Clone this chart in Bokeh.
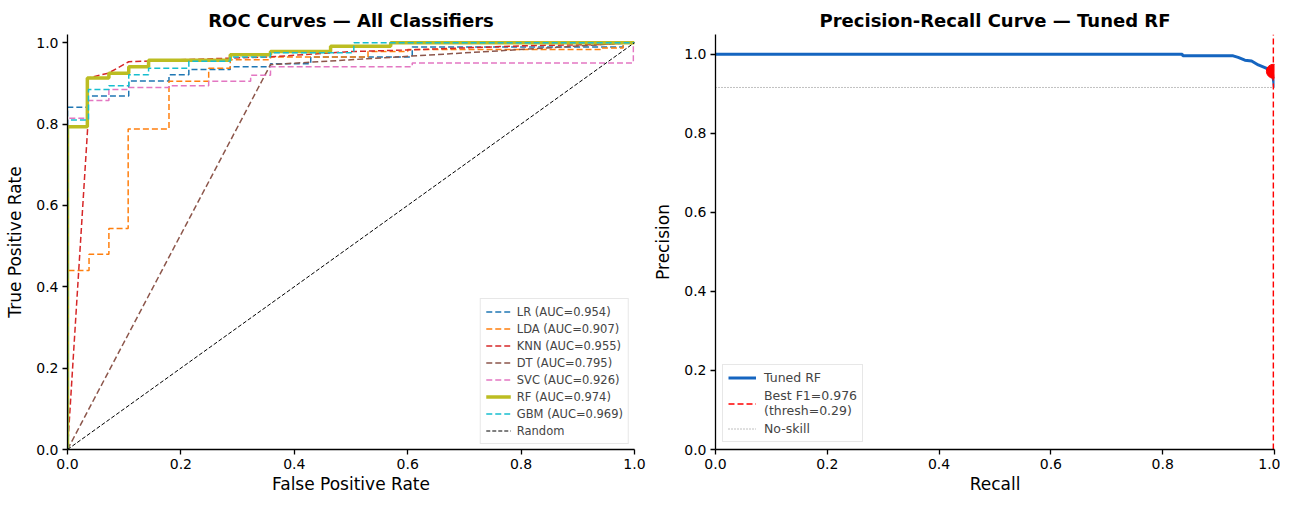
from bokeh.plotting import figure
from bokeh.layouts import row
from bokeh.models import Range1d, FixedTicker, PrintfTickFormatter, Legend, LegendItem
from bokeh.embed import file_html
from bokeh.resources import INLINE

FONT = "DejaVu Sans"

# ---------------- ROC data ----------------
lr_fpr = [0, 0, 0.035, 0.035, 0.108, 0.108, 0.179, 0.179, 0.214, 0.214, 0.287, 0.287, 0.358, 0.358, 0.429, 0.429, 0.608, 0.608, 0.98, 0.98, 1.0]
lr_tpr = [0, 0.841, 0.841, 0.869, 0.869, 0.906, 0.906, 0.921, 0.921, 0.934, 0.934, 0.941, 0.941, 0.948, 0.948, 0.965, 0.965, 0.989, 0.989, 1.0, 1.0]

lda_fpr = [0, 0, 0.038, 0.038, 0.073, 0.073, 0.107, 0.107, 0.179, 0.179, 0.249, 0.249, 0.287, 0.287, 0.358, 0.358, 0.53, 0.53, 0.6, 0.6, 0.94, 0.94, 0.98, 0.98, 1.0]
lda_tpr = [0, 0.44, 0.44, 0.48, 0.48, 0.543, 0.543, 0.788, 0.788, 0.905, 0.905, 0.937, 0.937, 0.958, 0.958, 0.965, 0.965, 0.978, 0.978, 0.983, 0.983, 0.987, 0.987, 1.0, 1.0]

knn_fpr = [0, 0.036, 0.036, 0.072, 0.108, 0.179, 0.357, 0.5, 0.6, 0.82, 0.93, 1.0]
knn_tpr = [0, 0.80, 0.913, 0.925, 0.953, 0.957, 0.965, 0.978, 0.982, 0.993, 0.995, 1.0]

dt_fpr = [0, 0.358, 1.0]
dt_tpr = [0, 0.946, 1.0]

svc_fpr = [0, 0, 0.035, 0.035, 0.073, 0.073, 0.108, 0.108, 0.179, 0.179, 0.249, 0.249, 0.323, 0.323, 0.358, 0.358, 0.608, 0.608, 0.998, 0.998]
svc_tpr = [0, 0.814, 0.814, 0.858, 0.858, 0.885, 0.885, 0.890, 0.890, 0.894, 0.894, 0.905, 0.905, 0.92, 0.92, 0.941, 0.941, 0.950, 0.950, 1.0]

rf_fpr = [0, 0, 0.035, 0.035, 0.073, 0.073, 0.108, 0.108, 0.143, 0.143, 0.287, 0.287, 0.358, 0.358, 0.464, 0.464, 0.57, 0.57, 1.0]
rf_tpr = [0, 0.793, 0.793, 0.913, 0.913, 0.925, 0.925, 0.941, 0.941, 0.957, 0.957, 0.970, 0.970, 0.978, 0.978, 0.991, 0.991, 1.0, 1.0]

gbm_fpr = [0, 0, 0.037, 0.037, 0.073, 0.073, 0.108, 0.108, 0.143, 0.143, 0.214, 0.214, 0.287, 0.287, 0.358, 0.358, 0.505, 0.505, 1.0]
gbm_tpr = [0, 0.81, 0.81, 0.885, 0.885, 0.894, 0.894, 0.921, 0.921, 0.937, 0.937, 0.954, 0.954, 0.965, 0.965, 0.975, 0.975, 1.0, 1.0]

rand_x = [0, 1]
rand_y = [0, 1]

roc_names = ["LR", "LDA", "KNN", "DT", "SVC", "RF", "GBM"]
roc_aucs = [0.954, 0.907, 0.955, 0.795, 0.926, 0.974, 0.969]
roc_colors = ["#1f77b4", "#ff7f0e", "#d62728", "#8c564b", "#e377c2", "#bcbd22", "#17becf"]

# ---------------- PR data ----------------
pr_recall = [0.0, 0.835, 0.836, 0.926, 0.935, 0.947, 0.959, 0.971, 0.985, 0.996, 1.0]
pr_precision = [1.0, 1.0, 0.996, 0.996, 0.992, 0.985, 0.983, 0.973, 0.965, 0.956, 0.916]
best_f1 = 0.976
best_thresh = 0.29
best_recall = 0.998
best_precision = 0.957
no_skill = 0.916

ticks = [0.0, 0.2, 0.4, 0.6, 0.8, 1.0]
ROC_YMAX = 1.02
PR_YMAX = 1.05


def style(p, xlabel, ylabel):
    p.title.text_font = FONT
    p.title.text_font_size = "18px"
    p.title.text_font_style = "bold"
    p.title.text_color = "black"
    p.title.align = "center"
    p.title.offset = 0
    p.title.standoff = 7
    p.outline_line_color = None
    p.xgrid.visible = False
    p.ygrid.visible = False
    p.background_fill_color = "white"
    p.border_fill_color = "white"
    for ax in (p.xaxis[0], p.yaxis[0]):
        ax.ticker = FixedTicker(ticks=ticks)
        ax.formatter = PrintfTickFormatter(format="%.1f")
        ax.major_label_text_font = FONT
        ax.major_label_text_font_size = "14px"
        ax.major_label_text_color = "black"
        ax.axis_label_text_font = FONT
        ax.axis_label_text_font_size = "17px"
        ax.axis_label_text_font_style = "normal"
        ax.axis_label_text_color = "black"
        ax.axis_line_color = "black"
        ax.axis_line_width = 1.3
        ax.major_tick_line_color = "black"
        ax.major_tick_line_width = 1.3
        ax.major_tick_out = 5
        ax.major_tick_in = 0
        ax.minor_tick_out = 0
        ax.minor_tick_in = 0
    p.xaxis[0].major_label_standoff = 4
    p.xaxis[0].axis_label_standoff = 2
    p.yaxis[0].major_label_standoff = 4
    p.yaxis[0].axis_label_standoff = 8
    p.xaxis[0].axis_label = xlabel
    p.yaxis[0].axis_label = ylabel


# ---------------- Left: ROC ----------------
p1 = figure(width=648, height=496, output_backend="svg", toolbar_location=None,
            x_range=Range1d(0, 1), y_range=Range1d(0, ROC_YMAX),
            title="ROC Curves \u2014 All Classifiers",
            min_border_left=67, min_border_right=14, min_border_top=34, min_border_bottom=47)
style(p1, "False Positive Rate", "True Positive Rate")

roc_data = [(lr_fpr, lr_tpr), (lda_fpr, lda_tpr), (knn_fpr, knn_tpr), (dt_fpr, dt_tpr),
            (svc_fpr, svc_tpr), (rf_fpr, rf_tpr), (gbm_fpr, gbm_tpr)]
items = []
for (fx, fy), name, auc, col in zip(roc_data, roc_names, roc_aucs, roc_colors):
    if name == "RF":
        r = p1.line(fx, fy, line_color=col, line_width=3.5)
    else:
        r = p1.line(fx, fy, line_color=col, line_width=1.5, line_dash="6 3")
    items.append(LegendItem(label=f"{name} (AUC={auc:.3f})", renderers=[r]))
r = p1.line(rand_x, rand_y, line_color="black", line_width=1, line_dash="4 2")
items.append(LegendItem(label="Random", renderers=[r]))

leg1 = Legend(items=items, location="bottom_right")
leg1.label_text_font = FONT
leg1.label_text_font_size = "11.5px"
leg1.label_height = 15
leg1.glyph_height = 15
leg1.glyph_width = 25
leg1.spacing = 2
leg1.padding = 5
leg1.margin = 5
leg1.label_standoff = 6
leg1.border_line_color = "#d0d0d0"
leg1.border_line_width = 1
leg1.background_fill_alpha = 0.85
p1.add_layout(leg1)

# ---------------- Right: PR ----------------
p2 = figure(width=632, height=496, output_backend="svg", toolbar_location=None,
            x_range=Range1d(0, 1), y_range=Range1d(0, PR_YMAX),
            title="Precision-Recall Curve \u2014 Tuned RF",
            min_border_left=67, min_border_right=6, min_border_top=34, min_border_bottom=47)
style(p2, "Recall", "Precision")

r_ns = p2.line([0, 1], [no_skill, no_skill], line_color="gray", line_width=1, line_dash="1 2")
r_pr = p2.line(pr_recall, pr_precision, line_color="#1565c0", line_width=3)
r_best = p2.line([best_recall, best_recall], [0, PR_YMAX], line_color="red", line_width=1.5, line_dash="6 3")
p2.scatter([best_recall], [best_precision], size=14, color="red")

leg2 = Legend(items=[
    LegendItem(label="Tuned RF", renderers=[r_pr]),
    LegendItem(label=f"Best F1={best_f1:.3f}\n(thresh={best_thresh:.2f})", renderers=[r_best]),
    LegendItem(label="No-skill", renderers=[r_ns]),
], location="bottom_left")
leg2.label_text_font = FONT
leg2.label_text_font_size = "12.5px"
leg2.glyph_width = 28
leg2.glyph_height = 15
leg2.label_height = 15
leg2.spacing = 3
leg2.padding = 5
leg2.margin = 7
leg2.label_standoff = 8
leg2.border_line_color = "#d0d0d0"
leg2.border_line_width = 1
leg2.background_fill_alpha = 0.85
p2.add_layout(leg2)

layout = row(p1, p2)
open("out.html", "w").write(file_html(layout, INLINE))
